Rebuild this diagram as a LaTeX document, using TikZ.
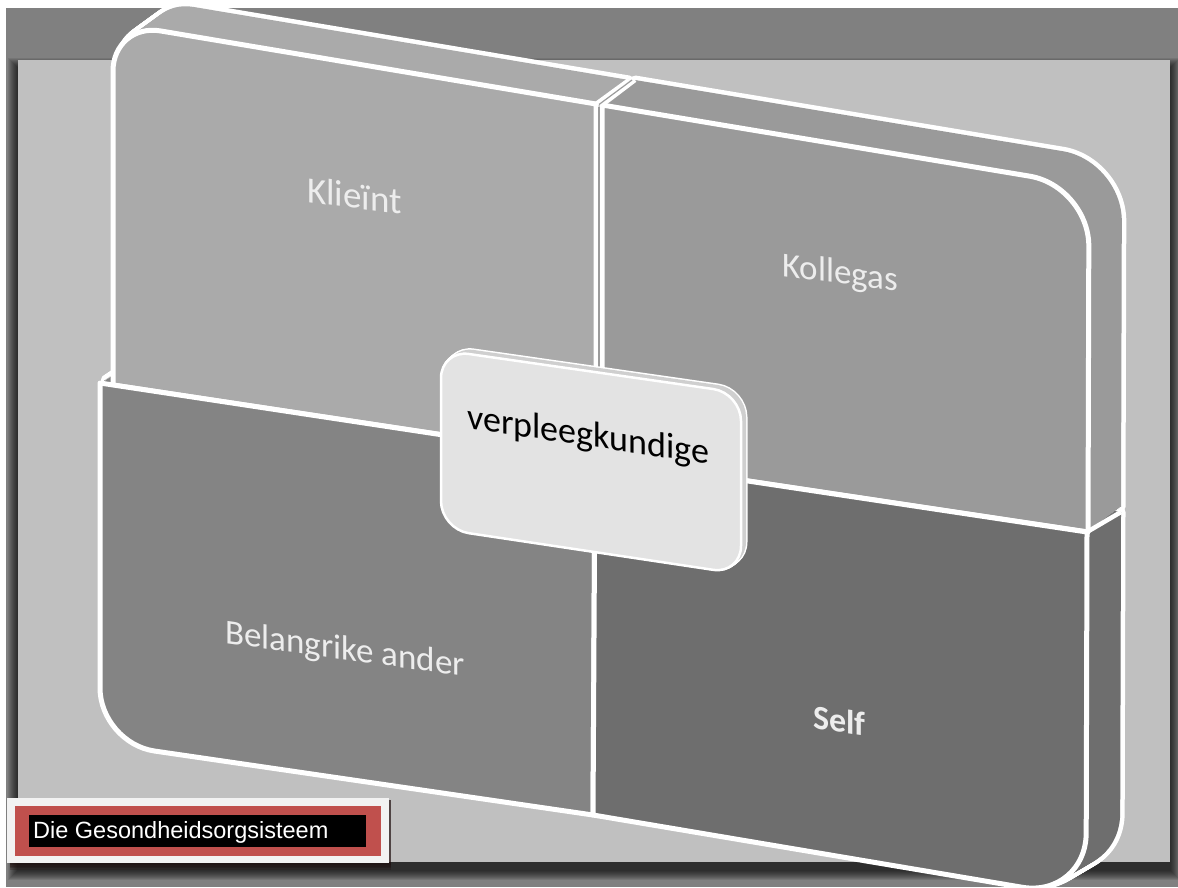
\documentclass[tikz,border=0pt]{standalone}
\usepackage{fontspec}
\setmainfont{Carlito}
\newfontfamily\arialfont{Liberation Sans}
\usetikzlibrary{calc}

\definecolor{bgdark}{HTML}{808080}
\definecolor{panel}{HTML}{C0C0C0}
\definecolor{tlcol}{HTML}{AAAAAA}
\definecolor{trcol}{HTML}{9A9A9A}
\definecolor{blcol}{HTML}{848484}
\definecolor{brcol}{HTML}{6E6E6E}
\definecolor{hubface}{HTML}{E3E3E3}
\definecolor{hubside}{HTML}{CFCFCF}
\definecolor{labelred}{HTML}{C0504D}
\definecolor{labelrim}{HTML}{F2F2F2}
\definecolor{lighttext}{HTML}{EDEDED}
\definecolor{seamgap}{HTML}{9C9C9C}

% front faces of the four quadrant tiles (one rounded outer corner each)
\newcommand\tileTL[1]{\path[#1] (596,104) -- (596,458) -- (113,385) -- (113,71)
  .. controls (113,44.5) and (134.2,26.5) .. (160.3,30.9) -- cycle;}
\newcommand\tileTR[1]{\path[#1] (602,105) -- (1029.8,176.2)
  .. controls (1062.5,181.6) and (1088.9,212.9) .. (1088.8,246) -- (1088,532) -- (602,459) -- cycle;}
\newcommand\tileBL[1]{\path[#1] (100,383) -- (595,458) -- (593,815) -- (154.4,751)
  .. controls (124.4,746.6) and (100,718.4) .. (100,688) -- cycle;}
\newcommand\tileBR[1]{\path[#1] (595,458) -- (1087,532) -- (1086.2,833)
  .. controls (1086.1,868.9) and (1057.3,893.2) .. (1021.9,887.2) -- (593,815) -- cycle;}
% central hub plate
\newcommand\hubshape[1]{\path[#1, rounded corners=28pt] (441,350) -- (741,393) -- (741,574) -- (441,529) -- cycle;}

\tikzset{
  lbl/.style={inner sep=0pt, text=lighttext, font=\fontsize{35}{42}\selectfont},
  edge/.style={draw=white, line width=5pt},
  rim/.style={draw=white, line width=9pt}
}

\begin{document}
\begin{tikzpicture}[x=1pt, y=-1pt, line join=round]
\useasboundingbox (0,0) rectangle (1178,887);
\fill[white] (0,0) rectangle (1178,887);
\fill[bgdark] (6,8) rectangle (1178,887);

% backdrop panel with soft shadow
\foreach \i in {1,...,10}{
  \fill[black, opacity=0.09] (18-\i,68-\i) rectangle (1170+\i,870+\i);
}
\fill[panel] (18,60) rectangle (1170,862);

% extruded depth of the tiles: outline of the swept solid
\foreach \k in {4,...,24}{
  \tileBL{rim, shift={({\k*33/24},{-\k*22/24})}}
  \tileBR{rim, shift={({\k*34/24},{-\k*20/24})}}
  \tileTL{rim, shift={({\k*33/24},{-\k*24/24})}}
  \tileTR{rim, shift={({\k*33/24},{-\k*25/24})}}
}
% extruded depth of the tiles: fills
\foreach \k in {0,...,24}{\tileBL{fill=blcol, shift={({\k*33/24},{-\k*22/24})}}}
\foreach \k in {0,...,24}{\tileBR{fill=brcol, shift={({\k*34/24},{-\k*20/24})}}}
\foreach \k in {0,...,24}{\tileTL{fill=tlcol, shift={({\k*33/24},{-\k*24/24})}}}
\foreach \k in {0,...,24}{\tileTR{fill=trcol, shift={({\k*33/24},{-\k*25/24})}}}

% front faces
\tileTL{fill=tlcol, edge}
\tileTR{fill=trcol, edge}
\tileBL{fill=blcol, edge}
\tileBR{fill=brcol, edge}

% seams between the tiles on the depth faces
\draw[white, line width=4.5pt] (596,104) -- (629,80);
\draw[white, line width=4.5pt] (602,105) -- (635,80);
\draw[seamgap, line width=1.2pt] (599,104.5) -- (632,80);
\draw[seamgap, line width=1.4pt] (599,107) -- (599,380);
\draw[white, line width=4.5pt] (1087,532) -- (1121,512);

% central hub with its thin depth
\foreach \k in {1,...,5}{\hubshape{draw=white, line width=3pt, shift={({\k},{-\k*0.8})}}}
\foreach \k in {0,...,5}{\hubshape{fill=hubside, shift={({\k},{-\k*0.8})}}}
\hubshape{fill=hubface, draw=white, line width=2.5pt}

% quadrant labels (slanted with the plane of the tiles)
\node[lbl, anchor=base west, yslant=-0.13, font=\fontsize{37}{44}\selectfont] (klient) at (307,202) {Klieïnt};
\node[lbl, anchor=base west, yslant=-0.13] (kollegas) at (782,276) {Kollegas};
\node[lbl, anchor=base west, yslant=-0.14] (ander) at (225,643) {Belangrike ander};
\node[lbl, anchor=base west, yslant=-0.15, font=\bfseries\fontsize{34}{40}\selectfont] (self) at (813,728) {Self};
\node[inner sep=0pt, anchor=base west, yslant=-0.15, text=black,
      font=\fontsize{36}{43}\selectfont] (nurse) at (467,428) {verpleegkundige};

% caption box
\foreach \i in {1,...,4}{
  \fill[black!85!labelred, opacity=0.25] (10,800) rectangle (391,863+1.8*\i);
}
\fill[labelrim] (7,798) rectangle (389,863);
\fill[labelred] (15,806) rectangle (381,856);
\fill[black] (29,815) rectangle (366,847);
\node[anchor=base west, inner sep=0pt, text=white,
      font=\arialfont\fontsize{23.5}{28}\selectfont] (caption) at (33,838) {Die Gesondheidsorgsisteem};
\end{tikzpicture}
\end{document}
